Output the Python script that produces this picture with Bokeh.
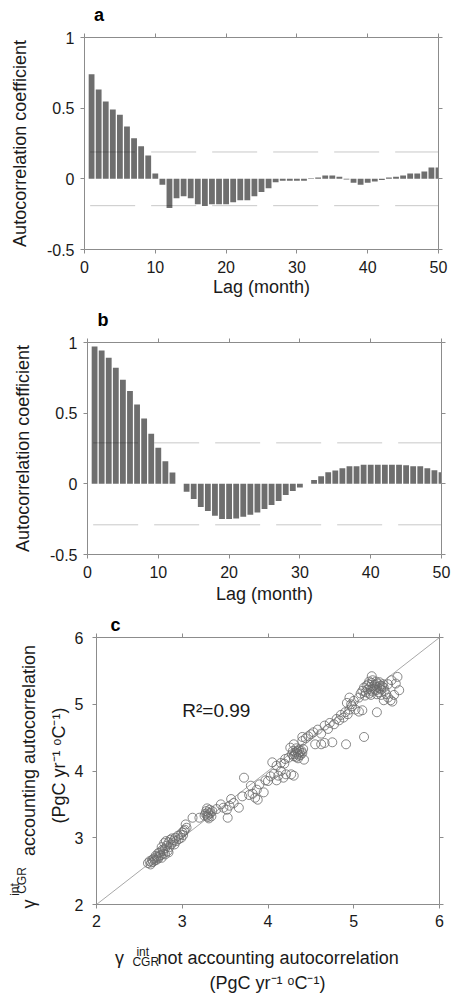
import math
from bokeh.plotting import figure
from bokeh.layouts import column
from bokeh.models import Range1d, FixedTicker, LinearAxis, CustomJSTickFormatter, Label
from bokeh.embed import file_html
from bokeh.resources import INLINE

# ---------------- data ----------------
lags = list(range(1, 51))
acf_a = [0.74, 0.632, 0.547, 0.49, 0.453, 0.37, 0.288, 0.231, 0.165, 0.038,
         -0.042, -0.207, -0.137, -0.123, -0.137, -0.179, -0.193, -0.179, -0.179, -0.179,
         -0.165, -0.151, -0.151, -0.123, -0.094, -0.066, -0.024, -0.014, -0.014, -0.014,
         -0.014, 0.005, 0.01, 0.024, 0.024, 0.014, -0.004, -0.028, -0.042, -0.028,
         -0.019, -0.009, 0.009, 0.014, 0.024, 0.038, 0.038, 0.052, 0.08, 0.08]
acf_b = [0.972, 0.943, 0.892, 0.821, 0.736, 0.656, 0.561, 0.462, 0.354, 0.255,
         0.16, 0.08, 0.0, -0.056, -0.108, -0.164, -0.192, -0.225, -0.248, -0.248,
         -0.246, -0.233, -0.218, -0.203, -0.178, -0.15, -0.121, -0.079, -0.051, -0.026,
         0.0, 0.028, 0.053, 0.082, 0.095, 0.11, 0.124, 0.124, 0.135, 0.135,
         0.135, 0.135, 0.135, 0.135, 0.132, 0.124, 0.124, 0.11, 0.096, 0.082]
conf_a = 0.19
conf_b = 0.29
conf_lag_span = [0.8, 50]
lag_ticks = [0, 10, 20, 30, 40, 50]
acf_ticks = [-0.5, 0, 0.5, 1]
gamma_ticks = [2, 3, 4, 5, 6]
one_to_one = [2, 6]

gamma_no_ac = [
    2.60, 2.62, 2.63, 2.64, 2.65, 2.66, 2.67, 2.68, 2.69, 2.70, 2.70, 2.72, 2.72, 2.73, 2.74, 2.75,
    2.76, 2.76, 2.77, 2.78, 2.78, 2.79, 2.80, 2.80, 2.81, 2.82, 2.83, 2.84, 2.84, 2.85, 2.86, 2.87,
    2.88, 2.89, 2.90, 2.91, 2.92, 2.93, 2.95, 2.96, 2.98, 2.99, 3.00, 3.01, 3.02, 3.03, 3.04, 3.05,
    3.12, 3.20, 3.26, 3.27, 3.28, 3.29, 3.29, 3.30, 3.30, 3.31, 3.31, 3.32, 3.33, 3.34, 3.35,
    3.40, 3.45, 3.48, 3.52, 3.53, 3.55, 3.57, 3.60, 3.66, 3.70, 3.72, 3.78, 3.80, 3.82, 3.85, 3.87,
    3.88, 3.90, 3.95, 3.97, 4.00, 4.03, 4.07, 4.10, 4.12, 4.15, 4.18, 4.21, 4.27, 4.30,
    4.05, 4.10, 4.15, 4.19, 4.20, 4.24, 4.28, 4.29, 4.30, 4.31, 4.32, 4.33, 4.33, 4.34, 4.35, 4.35,
    4.36, 4.36, 4.37, 4.38, 4.39, 4.40, 4.41, 4.42, 4.26, 4.30,
    4.40, 4.40, 4.44, 4.47, 4.50, 4.53, 4.55, 4.58, 4.62, 4.62, 4.66, 4.66, 4.70, 4.72, 4.75, 4.77,
    4.80, 4.83, 4.85, 4.88, 4.90, 4.91, 4.93, 4.95, 4.97, 4.98, 5.00, 4.92, 5.02, 5.06, 5.12, 5.27,
    5.10, 4.95,
    5.06, 5.08, 5.10, 5.12, 5.13, 5.14, 5.15, 5.16, 5.17, 5.18, 5.18, 5.19, 5.20, 5.20, 5.21, 5.21,
    5.22, 5.22, 5.23, 5.24, 5.25, 5.26, 5.26, 5.27, 5.27, 5.28, 5.29, 5.30, 5.30, 5.31, 5.32, 5.32,
    5.33, 5.34, 5.35, 5.35, 5.36, 5.38, 5.40, 5.40, 5.43, 5.44, 5.45, 5.47, 5.49, 5.51, 5.53]
gamma_ac = [
    2.62, 2.65, 2.60, 2.63, 2.67, 2.64, 2.69, 2.66, 2.73, 2.67, 2.71, 2.69, 2.77, 2.72, 2.78, 2.74,
    2.70, 2.86, 2.82, 2.76, 2.80, 2.92, 2.75, 2.84, 2.95, 2.88, 2.80, 2.93, 2.78, 2.86, 2.97, 2.90,
    2.99, 2.93, 2.96, 2.90, 3.00, 2.95, 3.03, 2.98, 3.05, 3.00, 3.08, 3.04, 3.10, 3.12, 3.20, 3.15,
    3.30, 3.30, 3.33, 3.36, 3.40, 3.33, 3.44, 3.38, 3.31, 3.35, 3.29, 3.42, 3.37, 3.32, 3.40,
    3.43, 3.50, 3.45, 3.42, 3.30, 3.48, 3.58, 3.52, 3.45, 3.62, 3.90, 3.64, 3.78, 3.66, 3.60, 3.72,
    3.57, 3.80, 3.68, 3.86, 3.85, 3.92, 3.96, 3.86, 3.93, 4.00, 3.90, 3.95, 3.95, 3.93,
    4.13, 4.08, 4.12, 4.11, 4.18, 4.20, 4.25, 4.30, 4.22, 4.25, 4.28, 4.21, 4.34, 4.30, 4.26, 4.19,
    4.23, 4.32, 4.28, 4.24, 4.30, 4.27, 4.33, 4.17, 4.35, 4.40,
    4.45, 4.51, 4.49, 4.52, 4.55, 4.58, 4.40, 4.62, 4.40, 4.56, 4.42, 4.68, 4.63, 4.72, 4.43, 4.70,
    4.78, 4.76, 4.84, 4.80, 4.88, 4.40, 4.85, 4.92, 5.00, 4.97, 5.05, 5.02, 4.92, 4.89, 4.51, 4.88,
    4.91, 5.10,
    5.10, 5.16, 5.20, 5.25, 5.13, 5.18, 5.28, 5.22, 5.30, 5.16, 5.34, 5.26, 5.22, 5.14, 5.32, 5.42,
    5.19, 5.36, 5.27, 5.23, 5.29, 5.21, 5.34, 5.26, 5.15, 5.31, 5.18, 5.24, 5.33, 5.28, 5.22, 5.14,
    5.27, 5.30, 5.25, 5.06, 5.20, 5.15, 5.10, 5.30, 5.06, 5.36, 5.04, 5.14, 5.31, 5.41, 5.21]

# ---------------- style ----------------
FONT = "Liberation Sans"
AX = "#8c8c8c"
TXT = "#1a1a1a"
BAR = "#6e6e6e"


def style_axis(ax, labels=True):
    ax.axis_line_color = AX
    ax.axis_line_width = 1
    ax.major_tick_line_color = AX
    ax.major_tick_out = 4
    ax.major_tick_in = 0
    ax.minor_tick_line_color = None
    ax.minor_tick_out = 0
    ax.minor_tick_in = 0
    ax.major_label_text_font = FONT
    ax.major_label_text_font_size = "16px"
    ax.major_label_text_color = TXT
    ax.axis_label_text_font = FONT
    ax.axis_label_text_font_size = "18px"
    ax.axis_label_text_font_style = "normal"
    ax.axis_label_text_color = TXT
    if labels:
        ax.formatter = CustomJSTickFormatter(code="return tick.toString();")
    else:
        ax.formatter = CustomJSTickFormatter(code="return '';")
        ax.major_label_standoff = 0


def add_frame_axes(p, xticks, yticks):
    top = LinearAxis(ticker=FixedTicker(ticks=xticks))
    style_axis(top, labels=False)
    p.add_layout(top, "above")
    right = LinearAxis(ticker=FixedTicker(ticks=yticks))
    style_axis(right, labels=False)
    p.add_layout(right, "right")


def text_row(p, side, range_name, items, size, standoff, bold=False, orientation=None):
    """A tick-less axis used only to place text pieces (titles) outside the frame."""
    items = sorted(items)
    pos = [it[0] for it in items]
    texts = [it[1] for it in items]
    if side in ("above", "below"):
        ax = LinearAxis(x_range_name=range_name)
    else:
        ax = LinearAxis(y_range_name=range_name)
    ax.ticker = FixedTicker(ticks=pos)
    ax.formatter = CustomJSTickFormatter(args=dict(labels=texts), code="return labels[index];")
    ax.axis_line_color = None
    ax.major_tick_line_color = None
    ax.minor_tick_line_color = None
    ax.major_tick_out = 0
    ax.major_tick_in = 0
    ax.minor_tick_out = 0
    ax.minor_tick_in = 0
    ax.major_label_standoff = standoff
    ax.major_label_text_font = FONT
    ax.major_label_text_font_size = size
    ax.major_label_text_color = "black" if bold else TXT
    ax.major_label_text_font_style = "bold" if bold else "normal"
    if orientation is not None:
        ax.major_label_orientation = orientation
    p.add_layout(ax, side)


def acf_panel(values, conf, letter, letter_px, left, right, top, bottom, title_standoff):
    p = figure(x_range=Range1d(0, 50), y_range=Range1d(-0.5, 1),
               frame_width=354, frame_height=212,
               min_border_left=left, min_border_right=right,
               min_border_top=top, min_border_bottom=bottom,
               output_backend="svg", toolbar_location=None,
               background_fill_color="white", border_fill_color="white")
    p.frame_align = False
    p.extra_x_ranges = {"px": Range1d(left, left + 354)}
    p.grid.visible = False
    p.outline_line_color = None
    xa = p.xaxis[0]
    ya = p.yaxis[0]
    xa.ticker = FixedTicker(ticks=lag_ticks)
    ya.ticker = FixedTicker(ticks=acf_ticks)
    style_axis(xa)
    style_axis(ya)
    xa.major_label_standoff = 7
    ya.major_label_standoff = 6
    xa.axis_label = "Lag (month)"
    ya.axis_label = "Autocorrelation coefficient"
    xa.axis_label_standoff = title_standoff
    ya.axis_label_standoff = 14
    add_frame_axes(p, lag_ticks, acf_ticks)
    text_row(p, "above", "px", [(letter_px, letter)], "18px", 9, bold=True)

    p.vbar(x=lags, top=values, bottom=0, width=0.82,
           fill_color=BAR, line_color=None)
    for c in (conf, -conf):
        p.line(x=conf_lag_span, y=[c, c], line_color="black", line_alpha=0.22,
               line_width=1, line_dash="45 16")
    return p


pa = acf_panel(acf_a, conf_a, "a", 98.5, 84, 13, 37, 51, 1)
pb = acf_panel(acf_b, conf_b, "b", 102.5, 87, 10, 42, 56, 3)

# ---------------- panel c ----------------
CL, CR, CT, CB = 96, 12, 27, 92
pc = figure(x_range=Range1d(2, 6), y_range=Range1d(2, 6),
            frame_width=343, frame_height=267,
            min_border_left=CL, min_border_right=CR,
            min_border_top=CT, min_border_bottom=CB,
            output_backend="svg", toolbar_location=None,
            background_fill_color="white", border_fill_color="white")
pc.frame_align = False
# pixel-like ranges used only for placing title pieces
pc.extra_x_ranges = {"px": Range1d(CL, CL + 343)}
pc.extra_y_ranges = {"py": Range1d(-904, -637)}
pc.grid.visible = False
pc.outline_line_color = None
style_axis(pc.xaxis[0])
style_axis(pc.yaxis[0])
pc.xaxis[0].ticker = FixedTicker(ticks=gamma_ticks)
pc.yaxis[0].ticker = FixedTicker(ticks=gamma_ticks)
pc.xaxis[0].major_label_standoff = 6
pc.yaxis[0].major_label_standoff = 9
add_frame_axes(pc, gamma_ticks, gamma_ticks)
text_row(pc, "above", "px", [(115, "c")], "18px", -1, bold=True)

# x-axis title (rows stacked below the tick labels)
text_row(pc, "below", "px", [(142.3, "int")], "12px", 15)
text_row(pc, "below", "px", [(119.0, "γ"), (277.6, "not accounting autocorrelation")], "18px", -14)
text_row(pc, "below", "px", [(145.3, "CGR")], "12px", -16)
text_row(pc, "below", "px", [(267, "(PgC yr⁻¹ ᵒC⁻¹)")], "18px", 1)

# y-axis title (rotated rows stacked left of the tick labels)
text_row(pc, "left", "py", [(-765, "(PgC yr⁻¹ ᵒC⁻¹)")], "18px", 3, orientation="parallel")
text_row(pc, "left", "py", [(-880, "CGR")], "12px", 17, orientation="parallel")
text_row(pc, "left", "py", [(-903.5, "γ"), (-750, "accounting autocorrelation")], "18px", -27,
         orientation="parallel")
text_row(pc, "left", "py", [(-889, "int")], "12px", -10, orientation="parallel")

pc.line(x=one_to_one, y=one_to_one, line_color="#a8a8a8", line_width=1)
pc.scatter(x=gamma_no_ac, y=gamma_ac, marker="circle", size=9,
           fill_color=None, line_color="#6a6a6a", line_width=0.8)
pc.add_layout(Label(x=3.0, y=4.91, text="R²=0.99", text_align="left",
                    text_baseline="alphabetic", text_font=FONT,
                    text_font_size="19px", text_color=TXT))

layout = column(pa, pb, pc, spacing=0)
open("out.html", "w").write(file_html(layout, INLINE))
